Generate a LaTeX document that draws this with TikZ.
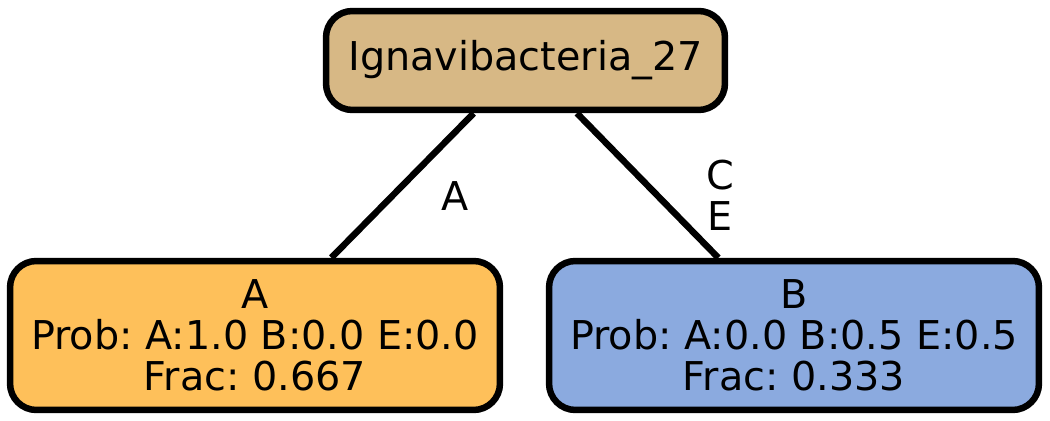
\documentclass[tikz,border=0pt]{standalone}
\usepackage{fontspec}
\setmainfont{DejaVu Sans}
\usepackage{xcolor}
\usepackage{tikz}
\usetikzlibrary{positioning}
\frenchspacing

\definecolor{rootfill}{HTML}{D7B885}
\definecolor{leafa}{HTML}{FEC05A}
\definecolor{leafb}{HTML}{8BAADF}

\begin{document}
\begin{tikzpicture}[x=0.02cm, y=-0.02cm,
  treenode/.style={draw, line width=3.7pt, rounded corners=15pt, inner sep=0pt,
    align=center, font=\fontsize{22.6pt}{23.4pt}\selectfont},
  rootnode/.style={treenode, fill=rootfill, minimum width=7.98cm, minimum height=1.98cm},
  leafnode/.style={treenode, minimum width=9.8cm, minimum height=2.98cm},
  branch/.style={line width=3.7pt},
  branchlabel/.style={align=center, inner sep=0pt, font=\fontsize{22.6pt}{23.4pt}\selectfont}
]
\useasboundingbox (0,0) rectangle (1050,421);

% Root and leaves
\node[rootnode] (root) at (525.5, 60.5) {Ignavibacteria\_27};
\node[leafnode, fill=leafa] (leafA) at (255, 335.5) {A\\Prob: A:1.0 B:0.0 E:0.0\\Frac: 0.667};
\node[leafnode, fill=leafb] (leafB) at (794, 335.5) {B\\Prob: A:0.0 B:0.5 E:0.5\\Frac: 0.333};

% Branches
\draw[branch] (root) -- (leafA);
\draw[branch] (root) -- (leafB);

% Labels
\node[branchlabel] (labA) at (455, 196) {A};
\node[branchlabel] (labB) at (720, 195) {C\\E};

\end{tikzpicture}
\end{document}
